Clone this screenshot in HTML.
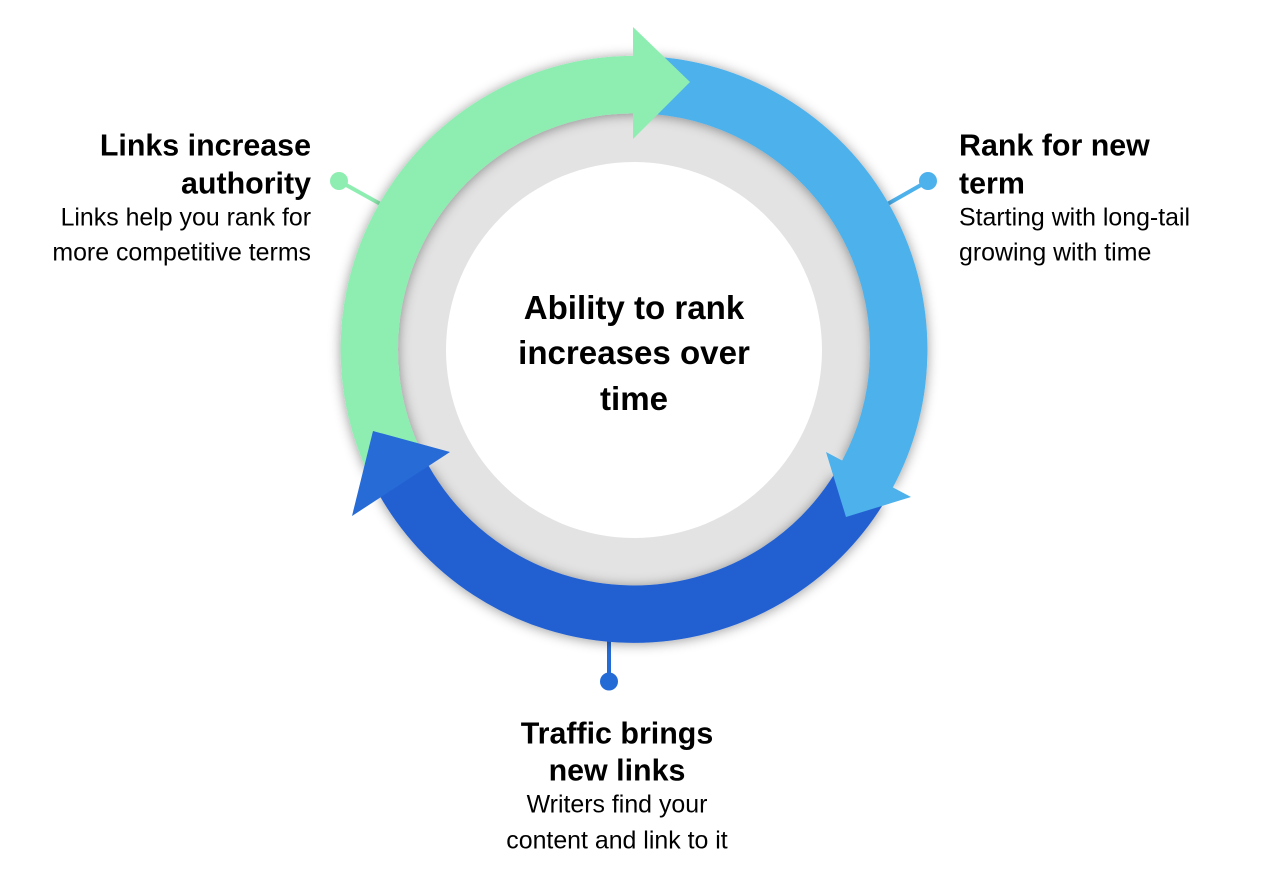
<!DOCTYPE html>
<html><head><meta charset="utf-8"><style>
html,body{margin:0;padding:0;background:#fff}
svg{display:block}
text{font-family:"Liberation Sans",Arial,sans-serif;fill:#000}
.h{font-size:30.4px;font-weight:700}
.c{font-size:33.1px;font-weight:700}
.p{font-size:24.9px}
</style></head><body>
<svg width="1270" height="888" viewBox="0 0 1270 888" xmlns="http://www.w3.org/2000/svg">
<defs>
<filter id="s" x="-10%" y="-10%" width="120%" height="120%"><feDropShadow dx="0" dy="1" stdDeviation="6" flood-color="#000" flood-opacity=".4"/></filter>
</defs>
<line x1="339" y1="181" x2="384" y2="206" stroke="#8eeeb2" stroke-width="4"/>
<circle cx="339" cy="181" r="9" fill="#8eeeb2"/>
<line x1="928" y1="181" x2="884" y2="206" stroke="#4db1ec" stroke-width="4"/>
<circle cx="928" cy="181" r="9" fill="#4db1ec"/>
<line x1="609" y1="681" x2="609" y2="636" stroke="#256bd6" stroke-width="4"/>
<circle cx="609" cy="681.5" r="9" fill="#256bd6"/>
<circle cx="634" cy="349.3" r="237.5" fill="#e3e3e3"/>
<circle cx="634" cy="350" r="188" fill="#fff"/>
<g fill="none" stroke-width="57.4" filter="url(#s)">
<path d="M858.5 489.6 A264.7 264.7 0 0 1 403.3 479.3" stroke="#2060d2"/>
<path d="M394.1 461.2 A264.7 264.7 0 0 1 640 84.7" stroke="#8eeeb2"/>
<path d="M640 84.7 A264.7 264.7 0 0 1 867.3 474.4" stroke="#4db1ec"/>
</g>
<polygon points="826,452 911,497 846,517" fill="#4db1ec"/>
<polygon points="633,27 690,82 633,139" fill="#8eeeb2"/>
<polygon points="373,431 450,452 352,516" fill="#266bd6"/>
<text class="c" text-anchor="middle" x="634" y="319">Ability to rank</text>
<text class="c" text-anchor="middle" x="634" y="364">increases over</text>
<text class="c" text-anchor="middle" x="634" y="410">time</text>
<text class="h" text-anchor="end" x="311" y="155.7">Links increase</text>
<text class="h" text-anchor="end" x="311" y="193.7">authority</text>
<text class="p" text-anchor="end" x="311" y="225.7">Links help you rank for</text>
<text class="p" text-anchor="end" x="311" y="260.7">more competitive terms</text>
<text class="h" x="959" y="155.7">Rank for new</text>
<text class="h" x="959" y="193.7">term</text>
<text class="p" x="959" y="225.7">Starting with long-tail</text>
<text class="p" x="959" y="260.7">growing with time</text>
<text class="h" text-anchor="middle" x="617" y="743.7">Traffic brings</text>
<text class="h" text-anchor="middle" x="617" y="780.7">new links</text>
<text class="p" text-anchor="middle" x="617" y="812.7">Writers find your</text>
<text class="p" text-anchor="middle" x="617" y="848.7">content and link to it</text>
</svg>
</body></html>
